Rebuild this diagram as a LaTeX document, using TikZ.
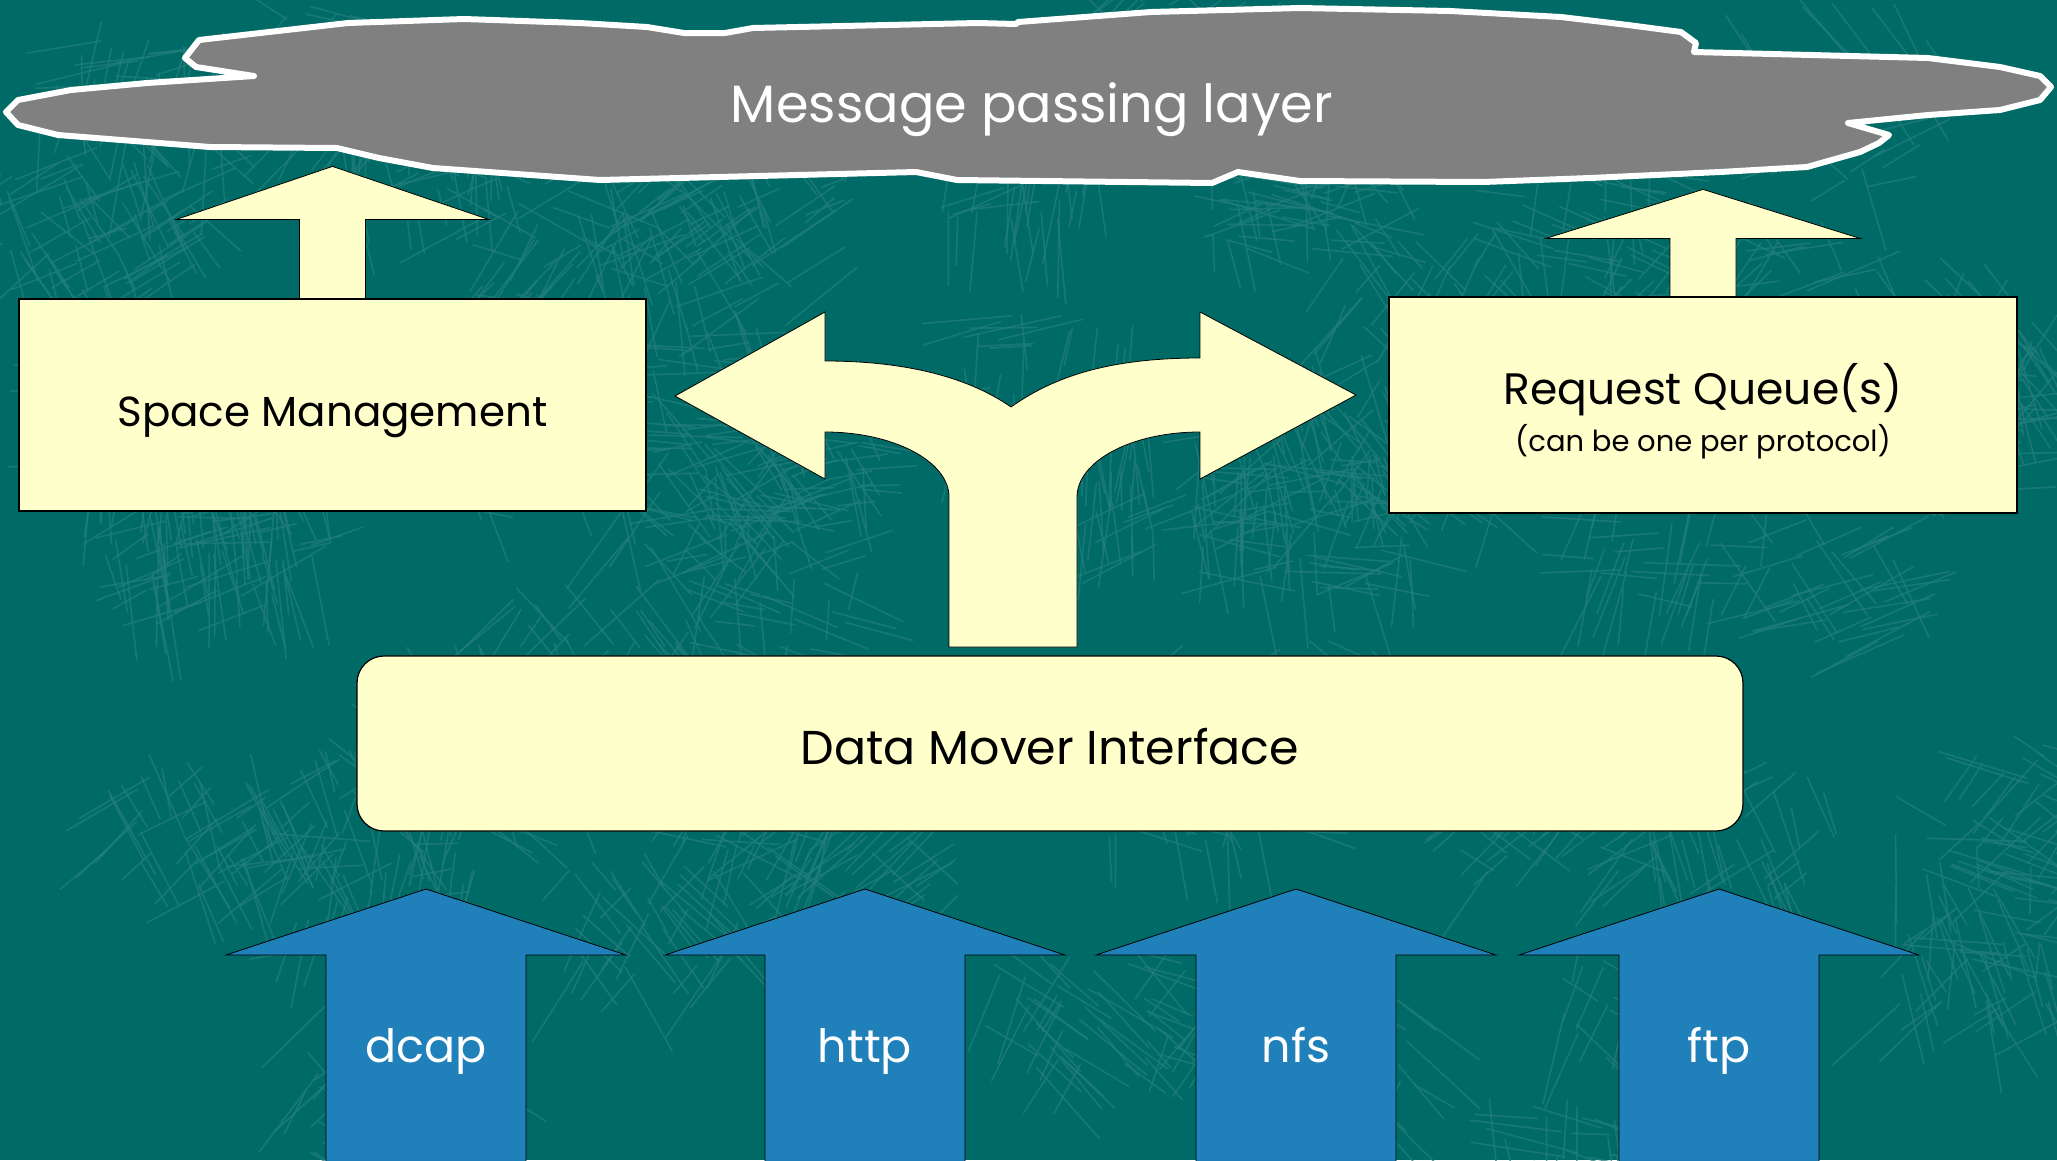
\documentclass[tikz,border=0pt]{standalone}
\usepackage{fontspec}
\setmainfont{Poppins}
\definecolor{bgteal}{HTML}{006A67}
\definecolor{scribble}{HTML}{217E7B}
\definecolor{cream}{HTML}{FFFFCC}
\definecolor{protoblue}{HTML}{1F80BA}
\definecolor{cloudgray}{HTML}{808080}
\tikzset{
  boxstyle/.style={draw=black, line width=1.2pt, fill=cream, inner sep=0pt},
  creamarrow/.style={draw=black, line width=0.8pt, fill=cream, line join=miter},
  bluearrow/.style={draw=black, line width=0.8pt, fill=protoblue, line join=miter},
  cloudstyle/.style={draw=white, line width=6pt, fill=cloudgray, line join=round},
  labeltext/.style={font=\fontsize{#1}{#1}\selectfont, anchor=base, inner sep=0pt},
}
% block arrow pointing up: #1 style, #2 base point (bottom centre of shaft),
% #3 half shaft width, #4 half head width, #5 shaft length, #6 head length
\newcommand{\blockup}[6]{%
  \draw[#1] (#2) ++(-#3,0) -- ++(0,-#5) -- ++(#3-#4,0) -- ++(#4,-#6)
    -- ++(#4,#6) -- ++(#3-#4,0) -- ++(0,#5) -- cycle;}
\begin{document}
\begin{tikzpicture}[x=1pt,y=-1pt]
  % background
  \fill[bgteal] (0,0) rectangle (2057,1160);
  \useasboundingbox (0,0) rectangle (2057,1160);
  % hatch texture of the backdrop: tufts of crossing strokes
  \begin{scope}
    \clip (0,0) rectangle (2057,1160);
    \pgfmathsetseed{4242}
    \foreach \k in {1,...,65}{
      \pgfmathsetmacro{\cx}{rnd*2057}
      \pgfmathsetmacro{\cy}{rnd*1160}
      \pgfmathsetmacro{\ca}{rnd*180}
      \foreach \j in {1,...,42}{
        \pgfmathsetmacro{\px}{\cx+rand*95}
        \pgfmathsetmacro{\py}{\cy+rand*65}
        \pgfmathsetmacro{\pa}{\ca+rand*12+75*(rnd>0.65)}
        \pgfmathsetmacro{\pl}{35+rnd*65}
        \draw[scribble, line width=1.6pt, opacity=0.75, line cap=round]
          (\px,\py) -- ++(\pa:\pl);
      }
    }
  \end{scope}

  % message passing layer cloud
  \draw[cloudstyle] (199,40) -- (348,23) -- (464,19) -- (580,23) -- (647,27)
    -- (684,33) -- (725,33) -- (753,28) -- (978,23) -- (1016,24) -- (1018,22)
    -- (1151,12) -- (1300,8) -- (1450,11) -- (1561,17) -- (1628,25)
    -- (1681,32) -- (1696,43) -- (1694,52) -- (1928,58) -- (2000,67)
    -- (2040,76) -- (2051,87) -- (2040,100) -- (2000,110) -- (1928,115)
    -- (1848,123) -- (1889,135) -- (1879,143) -- (1860,152) -- (1807,167)
    -- (1720,172) -- (1590,178) -- (1483,182) -- (1300,181) -- (1238,172)
    -- (1212,183) -- (957,180) -- (916,172) -- (600,180) -- (433,168)
    -- (379,158) -- (337,148) -- (210,147) -- (58,135) -- (18,125)
    -- (6,112) -- (18,100) -- (71,90) -- (147,83) -- (254,76) -- (196,67)
    -- (185,58) -- cycle;
  \node[labeltext=52.5, text=white] (msg) at (1032,122) {Message passing layer};

  % upper boxes
  \node[boxstyle, minimum width=627pt, minimum height=212pt]
    (spacemgmt) at (332.5,405) {};
  \node[labeltext=42] (spacetitle) at (332.5,426) {Space Management};
  \node[boxstyle, minimum width=628pt, minimum height=216pt] (reqq)
    at (1703,405) {};
  \node[labeltext=44] (reqqtitle) at (1703,404) {Request Queue(s)};
  \node[labeltext=29] (reqqnote) at (1703,451) {(can be one per protocol)};

  % arrows into the message layer
  \blockup{creamarrow}{spacemgmt.north}{33}{156}{79}{53}
  \blockup{creamarrow}{reqq.north}{33}{157}{58}{49}

  % data mover interface
  \node[boxstyle, rounded corners=27pt, minimum width=1386pt,
    minimum height=175pt] (dmi) at (1050,743.5) {};
  \node[labeltext=47.5] (dmititle) at (1050,764) {Data Mover Interface};

  % fork arrow from the data mover to both sides
  \coordinate (forkbase) at (1013,647);
  \draw[creamarrow] (forkbase) ++(-64,0) -- (949,497)
    .. controls (949,461) and (893,432) .. (825,432) -- (825,479)
    -- (675,396) -- (825,312) -- (825,361)
    .. controls (900,361) and (965,375) .. (1011,407)
    .. controls (1060,372) and (1120,358) .. (1200,358)
    -- (1200,312) -- (1356,395) -- (1200,479) -- (1200,432)
    .. controls (1130,432) and (1077,462) .. (1077,497)
    -- (1077,647) -- cycle;

  % protocol door arrows
  \foreach \name/\lbl/\xx in {dcap/dcap/426, http/http/865,
      nfs/nfs/1296, ftp/ftp/1719}{
    \coordinate (\name foot) at (\xx,1166);
    \blockup{bluearrow}{\name foot}{100}{200}{211}{66}
    \node[labeltext=46, text=white] (\name) at (\xx,1062) {\lbl};
  }
\end{tikzpicture}
\end{document}
